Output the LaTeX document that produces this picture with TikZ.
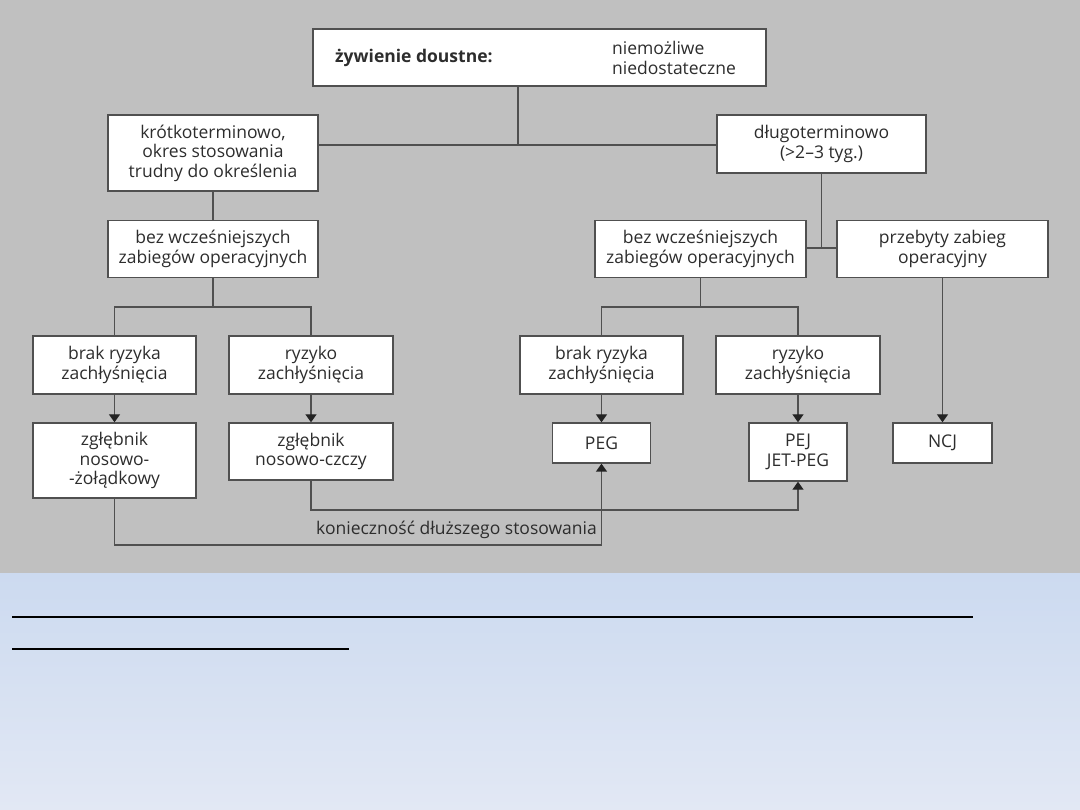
\documentclass[tikz,border=0pt]{standalone}
\usepackage{fontspec}
\setmainfont{Open Sans}
\usetikzlibrary{arrows.meta}
\definecolor{panelgray}{RGB}{192,192,192}
\definecolor{linegray}{RGB}{80,80,80}
\definecolor{txtgray}{RGB}{45,45,45}
\definecolor{tipcol}{RGB}{35,35,35}
\definecolor{bluetop}{RGB}{204,218,240}
\definecolor{bluebot}{RGB}{226,232,244}
\tikzset{
  box/.style={draw=linegray, fill=white, line width=1.4pt, align=center, inner sep=0pt,
    text=txtgray, font=\fontsize{17.5}{19.5}\selectfont},
  conn/.style={draw=linegray, line width=1.4pt},
  arr/.style={conn, -{Triangle[width=11pt,length=8pt,fill=tipcol,color=tipcol]}},
  lbl/.style={text=txtgray, font=\fontsize{17.5}{19.5}\selectfont, align=left, inner sep=0pt}
}
\begin{document}
\begin{tikzpicture}[x=1pt,y=-1pt]
\useasboundingbox (0,0) rectangle (1080,810);
\fill[panelgray] (0,0) rectangle (1080,573);
\shade[top color=bluetop, bottom color=bluebot] (0,573) rectangle (1080,810);
\draw[line width=2.5pt] (12,617) -- (973,617);
\draw[line width=1.5pt] (12,649) -- (349,649);

% boxes
\node[box, minimum width=453pt, minimum height=57pt] (top) at (539.5,57.5) {};
\node[lbl, anchor=west, font=\fontsize{17.5}{19.5}\selectfont\bfseries] (tl) at (335,57.5) {żywienie doustne:};
\node[lbl, anchor=west] (tr) at (612,58) {niemożliwe\\niedostateczne};

\node[box, minimum width=210pt, minimum height=76pt] (krotko) at (213,153) {krótkoterminowo,\\okres stosowania\\trudny do określenia};
\node[box, minimum width=209pt, minimum height=58pt] (dlugo) at (821.5,144) {długoterminowo\\(>2–3 tyg.)};

\node[box, minimum width=210pt, minimum height=57pt] (bez1) at (213,249) {bez wcześniejszych\\zabiegów operacyjnych};
\node[box, minimum width=211pt, minimum height=57pt] (bez2) at (700.5,249) {bez wcześniejszych\\zabiegów operacyjnych};
\node[box, minimum width=211pt, minimum height=57pt] (przeb) at (942.5,249) {przebyty zabieg\\operacyjny};

\node[box, minimum width=163pt, minimum height=58pt] (brak1) at (114.5,365) {brak ryzyka\\zachłyśnięcia};
\node[box, minimum width=164pt, minimum height=58pt] (ryz1) at (311,365) {ryzyko\\zachłyśnięcia};
\node[box, minimum width=163pt, minimum height=58pt] (brak2) at (601.5,365) {brak ryzyka\\zachłyśnięcia};
\node[box, minimum width=164pt, minimum height=58pt] (ryz2) at (798,365) {ryzyko\\zachłyśnięcia};

\node[box, minimum width=163pt, minimum height=75pt] (zgl1) at (114.5,460.5) {zgłębnik\\nosowo-\\-żołądkowy};
\node[box, minimum width=164pt, minimum height=57pt] (zgl2) at (311,451.5) {zgłębnik\\nosowo-czczy};
\node[box, minimum width=98pt, minimum height=40pt] (peg) at (601.5,443) {PEG};
\node[box, minimum width=98pt, minimum height=58pt] (pej) at (798,452) {PEJ\\JET-PEG};
\node[box, minimum width=99pt, minimum height=40pt] (ncj) at (942.5,443) {NCJ};

\node[lbl, anchor=east] (kon) at (597,530) {konieczność dłuższego stosowania};

% connectors
\coordinate (h) at (518,145);
\draw[conn] (top.south -| h) -- (h);
\draw[conn] (krotko.east |- h) -- (dlugo.west |- h);
\draw[conn] (krotko.south) -- (bez1.north);

\coordinate (j1) at (213,307);
\draw[conn] (bez1.south) -- (j1);
\draw[conn] (brak1.north) -- (brak1.north |- j1) -- (ryz1.north |- j1) -- (ryz1.north);
\draw[arr] (brak1.south) -- (zgl1.north);
\draw[arr] (ryz1.south) -- (zgl2.north);

\coordinate (j2) at (821.5,248);
\draw[conn] (dlugo.south) -- (j2);
\draw[conn] (bez2.east |- j2) -- (przeb.west |- j2);

\coordinate (j3) at (700.5,307);
\draw[conn] (bez2.south) -- (j3);
\draw[conn] (brak2.north) -- (brak2.north |- j3) -- (ryz2.north |- j3) -- (ryz2.north);
\draw[arr] (brak2.south) -- (peg.north);
\draw[arr] (ryz2.south) -- (pej.north);
\draw[arr] (przeb.south) -- (ncj.north);

\coordinate (b1) at (114.5,545);
\coordinate (b2) at (311,510);
\draw[arr] (zgl1.south) -- (zgl1.south |- b1) -- (peg.south |- b1) -- (peg.south);
\draw[arr] (zgl2.south) -- (zgl2.south |- b2) -- (pej.south |- b2) -- (pej.south);
\end{tikzpicture}
\end{document}
